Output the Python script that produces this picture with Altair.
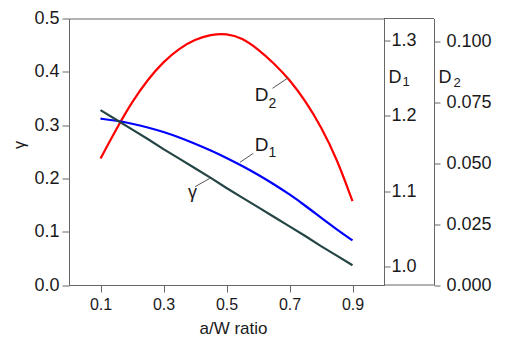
import altair as alt
import pandas as pd

# ---- data ----
aw = [0.10, 0.15, 0.20, 0.25, 0.30, 0.35, 0.40, 0.45, 0.50,
      0.55, 0.60, 0.65, 0.70, 0.75, 0.80, 0.85, 0.90]
gamma = [0.328, 0.310, 0.292, 0.274, 0.255, 0.237, 0.219, 0.201, 0.182,
         0.164, 0.146, 0.128, 0.110, 0.092, 0.073, 0.055, 0.037]
d1 = [1.196, 1.1935, 1.1895, 1.1845, 1.1785, 1.1712, 1.1630, 1.1540, 1.1442,
      1.1335, 1.1220, 1.1095, 1.0960, 1.0810, 1.0650, 1.0495, 1.0350]
d2 = [0.0520, 0.0641, 0.0753, 0.0845, 0.0919, 0.0973, 0.1010, 0.1030, 0.1035,
      0.1016, 0.0970, 0.0913, 0.0845, 0.0758, 0.0652, 0.0520, 0.0345]

x_ticks = [0.1, 0.3, 0.5, 0.7, 0.9]
gamma_ticks = [0.0, 0.1, 0.2, 0.3, 0.4, 0.5]
d1_ticks = [1.0, 1.1, 1.2, 1.3]
d2_ticks = [0.0, 0.025, 0.05, 0.075, 0.1]

df = pd.DataFrame({"aw": aw, "gamma": gamma, "d1": d1, "d2": d2})

W, H = 315, 266.5
FONT = "Liberation Sans"
AX = "#666666"
TXT = "#1a1a1a"

x_enc = alt.X(
    "aw:Q",
    scale=alt.Scale(domain=[0, 1], nice=False, zero=False),
    axis=alt.Axis(values=x_ticks, format=".1f", title=None, grid=False,
                  tickSize=7, labelFontSize=16, labelPadding=4, labelFlush=False),
)

base = alt.Chart(df)

line_d2 = base.mark_line(color="#ff0000", strokeWidth=2.2, interpolate="basis").encode(
    x=x_enc,
    y=alt.Y("d2:Q", scale=alt.Scale(domain=[0, 0.1096], nice=False, zero=False),
            axis=alt.Axis(orient="right", offset=50, values=d2_ticks, format=".3f",
                          title=None, grid=False, tickSize=6, labelPadding=6,
                          labelFontSize=18)),
)

line_d1 = base.mark_line(color="#0000ff", strokeWidth=2.2, interpolate="basis").encode(
    x=x_enc,
    y=alt.Y("d1:Q", scale=alt.Scale(domain=[0.976, 1.3285], nice=False, zero=False),
            axis=alt.Axis(orient="right", offset=0, values=d1_ticks, format=".1f",
                          title=None, grid=False, tickSize=6, labelPadding=1,
                          labelFontSize=18)),
)

line_g = base.mark_line(color="#254545", strokeWidth=2.2).encode(
    x=x_enc,
    y=alt.Y("gamma:Q", scale=alt.Scale(domain=[0, 0.5], nice=False, zero=False),
            axis=alt.Axis(orient="left", values=gamma_ticks, format=".1f",
                          title=None, grid=False, tickSize=7, labelPadding=3,
                          labelFontSize=18)),
)


def txt(s, x, y, size, angle=0, baseline="alphabetic", align="center"):
    kw = dict(text=s, font=FONT, fontSize=size, color=TXT, align=align, baseline=baseline)
    if angle:
        kw["angle"] = angle
    return alt.Chart(alt.Data(values=[{}])).mark_text(**kw).encode(
        x=alt.value(x), y=alt.value(y))


def seg(x1, y1, x2, y2, color="#555555", width=1):
    return alt.Chart(alt.Data(values=[{}])).mark_rule(color=color, strokeWidth=width).encode(
        x=alt.value(x1), y=alt.value(y1), x2=alt.value(x2), y2=alt.value(y2))


decor = [
    # frame extension between the two right axes
    seg(W, 0, W + 50, 0, AX, 1),
    seg(W, H, W + 50, H, AX, 1),
    # leader lines
    seg(203.5, 69.8, 219.3, 59.2),
    seg(171, 143.8, 184.3, 134.8),
    seg(126, 168.2, 141, 159.8),
    # axis titles
    txt("γ", -49, 126.5, 16, angle=270, baseline="middle"),
    txt("a/W ratio", 164.5, 315, 17),
    txt("D", 326, 64.8, 18),
    txt("1", 337, 67.5, 13),
    txt("D", 376, 64.8, 18),
    txt("2", 388, 68.8, 13),
    # curve labels
    txt("D", 192.5, 82.5, 19),
    txt("2", 203.5, 89.2, 14),
    txt("D", 192.5, 132.2, 19),
    txt("1", 203.5, 138.8, 14),
    txt("γ", 123.5, 179.2, 18),
]

chart = alt.layer(line_d2, line_d1, line_g, *decor).resolve_scale(
    y="independent"
).properties(
    width=W, height=H,
    autosize=alt.AutoSizeParams(type="none"),
    padding={"left": 69, "top": 18.5, "right": 125, "bottom": 55},
).configure_view(
    stroke=AX, strokeWidth=1
).configure_axis(
    domainColor=AX, tickColor=AX, labelFont=FONT, labelColor=TXT,
    domainWidth=1, tickWidth=1,
)

chart.save("out.html", embed_options={"renderer": "svg", "actions": False})
